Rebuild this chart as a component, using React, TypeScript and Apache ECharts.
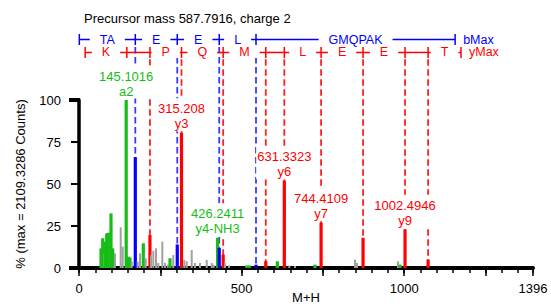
import React, { useEffect, useRef } from "react";
import * as echarts from "echarts";

const TITLE = "Precursor mass 587.7916, charge 2";
const Y_NAME = "% (max = 2109.3286 Counts)";
const X_NAME = "M+H";
const X_MAX = 1396;
const X_LABELS = [0, 500, 1000, 1396];

// kind: 0 gray (unassigned), 1 green, 2 blue (b), 3 red (y)
const peakMz = [
  67.7, 72.9, 76.9, 80.0, 85.2, 90.1, 98.4, 103.6, 110.7, 128.2, 134.4, 145.1016,
  151.6, 156.8, 162.1, 173.09, 180.5, 187.6, 197.7, 205.1, 218.15, 221.4, 228.5,
  236.8, 243.8, 256.2, 264.5, 272.8, 279.8, 290.0, 302.13, 315.208, 323.8, 331.2,
  346.6, 356.7, 372.1, 392.7, 408.1, 413.6, 426.2411, 431.18, 443.26, 449.0, 461.3,
  515.7, 523.7, 544.26, 574.3, 609.8, 631.3323, 646.7, 664.2, 725.7, 744.4109,
  848.7, 854.9, 873.45, 980.9, 987.1, 1002.4946, 1073.53,
];
const peakInt = [
  11.7, 17.7, 9, 15.7, 20.6, 21, 32.5, 11.7, 8.7, 24.2, 12.7, 100,
  6.7, 6.2, 3.8, 66, 3.8, 8.7, 14.7, 5.8, 19.6, 7.7, 10.3,
  11.7, 3, 15.7, 3, 2, 5.8, 7.7, 14, 80.5, 4.8, 4,
  10.7, 3, 3, 4.8, 3, 2, 18, 12, 8, 3, 1.5,
  1.5, 1.5, 2, 4, 4, 52, 1.5, 1.2, 2, 27,
  5, 3, 18, 4, 2, 23, 5,
];
const peakKind = [
  1, 1, 0, 1, 1, 1, 1, 1, 0, 0, 0, 1,
  1, 1, 0, 2, 0, 0, 1, 0, 3, 0, 0,
  0, 0, 0, 0, 0, 1, 0, 2, 3, 0, 0,
  0, 0, 0, 0, 0, 0, 1, 2, 3, 0, 0,
  1, 1, 2, 3, 1, 3, 0, 0, 1, 3,
  0, 0, 3, 0, 1, 3, 3,
];

const labelMz = ["145.1016", "315.208", "426.2411", "631.3323", "744.4109", "1002.4946"];
const labelInt = [100, 80.5, 18, 52, 27, 23];
const labelIon = ["a2", "y3", "y4-NH3", "y6", "y7", "y9"];
const labelKind = [1, 3, 1, 3, 3, 3];

const bLadderMz = [1.0073, 173.0921, 302.1347, 431.1773, 544.2613, 1156.5663];
const bLadderRes = ["TA", "E", "E", "L", "GMQPAK"];
const yLadderMz = [19.0178, 147.1128, 218.1499, 315.2027, 443.2613, 574.3017, 631.3232, 744.4073, 873.4499, 1002.4925, 1073.5296, 1174.5773];
const yLadderRes = ["K", "", "P", "Q", "M", "", "L", "E", "E", "", "T"];
const bDashMz = [173.0921, 302.1347, 431.1773, 544.2613];
const yDashMz = [218.1499, 315.2027, 443.2613, 574.3017, 631.3232, 744.4073, 873.4499, 1002.4925, 1073.5296];

const FONT = "'Liberation Sans', Arial, Helvetica, sans-serif";
const COLORS = ["#a0a0a0", "#16bd16", "#0000ff", "#ff0000"];
const B_ROW = 136.0;
const Y_ROW = 128.3;
const B_DASH_TOP = 131.5;
const Y_DASH_TOP = 124.2;

export default function App() {
  const ref = useRef<HTMLDivElement>(null);
  useEffect(() => {
    document.body.style.margin = "0";
    const chart = echarts.init(ref.current!, null, { renderer: "svg" });

    const peakData = peakMz.map((m, i) => [m, peakInt[i], peakKind[i]]);
    const labelData = labelMz.map((m, i) => [parseFloat(m), labelInt[i], i]);
    const dashData = [
      ...bDashMz.map((m) => [m, 0]),
      ...yDashMz.map((m) => [m, 1]),
    ];
    const ladderData: number[][] = [];
    for (let i = 0; i < bLadderRes.length; i++)
      ladderData.push([bLadderMz[i], bLadderMz[i + 1], 0, i, i === bLadderRes.length - 1 ? 1 : 0]);
    for (let i = 0; i < yLadderRes.length; i++)
      ladderData.push([yLadderMz[i], yLadderMz[i + 1], 1, i, i === yLadderRes.length - 1 ? 1 : 0]);

    const option: any = {
      animation: false,
      textStyle: { fontFamily: FONT },
      title: {
        text: TITLE,
        left: 79,
        top: 7,
        textStyle: { fontSize: 13, fontWeight: "normal", color: "#000", fontFamily: FONT },
      },
      grid: { left: 79, right: 18, top: 100, bottom: 38, containLabel: false, outerBoundsMode: "none" },
      xAxis: [
        {
          type: "value",
          min: 0,
          max: X_MAX,
          interval: 50,
          name: X_NAME,
          nameLocation: "middle",
          nameGap: 23,
          nameMoveOverlap: false,
          nameTextStyle: { fontSize: 13, color: "#000", fontFamily: FONT },
          axisLine: { show: true, lineStyle: { color: "#000", width: 4 } },
          axisTick: { show: true, length: 5, lineStyle: { color: "#000", width: 1.5 } },
          axisLabel: {
            color: "#000",
            fontSize: 13,
            margin: 14,
            fontFamily: FONT,
            formatter: (v: number) => (X_LABELS.includes(v) ? String(v) : ""),
          },
          splitLine: { show: false },
        },
        {
          type: "value",
          min: 0,
          max: X_MAX,
          interval: 250,
          position: "bottom",
          axisLine: { show: false },
          axisTick: { show: true, length: 8, lineStyle: { color: "#000", width: 1.5 } },
          axisLabel: { show: false },
          splitLine: { show: false },
        },
      ],
      yAxis: {
        type: "value",
        min: 0,
        max: 100,
        interval: 25,
        name: Y_NAME,
        nameLocation: "middle",
        nameGap: 52,
        nameMoveOverlap: false,
        nameTextStyle: { fontSize: 13, color: "#000", fontFamily: FONT },
        axisLine: { show: true, lineStyle: { color: "#000", width: 3.5 } },
        axisTick: { show: true, length: 8, lineStyle: { color: "#000", width: 2 } },
        axisLabel: { color: "#000", fontSize: 13, margin: 18, fontFamily: FONT },
        splitLine: { show: false },
      },
      series: [
        {
          type: "custom",
          name: "bracket",
          xAxisIndex: 0,
          clip: false,
          z: 6,
          data: [[0, 100], [0, 0]],
          renderItem: (_p: any, api: any) => {
            const p = api.coord([api.value(0), api.value(1)]);
            return {
              type: "line",
              shape: { x1: p[0] - 10, y1: p[1], x2: p[0] + 1, y2: p[1] },
              style: { stroke: "#000", lineWidth: 4 },
            };
          },
        },
        {
          type: "custom",
          name: "dashes",
          xAxisIndex: 0,
          clip: false,
          z: 2,
          data: dashData,
          renderItem: (_p: any, api: any) => {
            const m = api.value(0);
            const row = api.value(1);
            const top = api.coord([m, row === 0 ? B_DASH_TOP : Y_DASH_TOP]);
            const bot = api.coord([m, 0]);
            return {
              type: "line",
              shape: { x1: top[0], y1: top[1], x2: bot[0], y2: bot[1] },
              style: {
                stroke: row === 0 ? "#3a3aff" : "#ff2020",
                lineWidth: 1.8,
                lineDash: [6.5, 3.5],
              },
            };
          },
        },
        {
          type: "custom",
          name: "peaks",
          xAxisIndex: 0,
          clip: false,
          z: 3,
          data: peakData,
          renderItem: (_p: any, api: any) => {
            const m = api.value(0);
            const v = api.value(1);
            const k = api.value(2);
            const p0 = api.coord([m, 0]);
            const p1 = api.coord([m, v]);
            const w = k === 0 ? 2 : 3.2;
            return {
              type: "rect",
              shape: { x: p0[0] - w / 2, y: p1[1], width: w, height: p0[1] - p1[1] },
              style: { fill: COLORS[k] },
            };
          },
        },
        {
          type: "custom",
          name: "labels",
          xAxisIndex: 0,
          clip: false,
          z: 4,
          data: labelData,
          renderItem: (_p: any, api: any) => {
            const i = api.value(2);
            const p = api.coord([api.value(0), api.value(1)]);
            return {
              type: "text",
              x: p[0],
              y: p[1] - 1.5,
              style: {
                text: labelMz[i] + "\n" + labelIon[i],
                fill: COLORS[labelKind[i]],
                fontSize: 13,
                fontFamily: FONT,
                lineHeight: 15,
                align: "center",
                verticalAlign: "bottom",
                backgroundColor: "#fff",
                padding: [3, 1, 0, 1],
              },
            };
          },
        },
        {
          type: "custom",
          name: "ladder",
          xAxisIndex: 0,
          clip: false,
          z: 5,
          data: ladderData,
          renderItem: (_p: any, api: any) => {
            const s = api.value(0);
            const e = api.value(1);
            const row = api.value(2);
            const idx = api.value(3);
            const last = api.value(4);
            const yv = row === 0 ? B_ROW : Y_ROW;
            const color = row === 0 ? "#0000ff" : "#ff0000";
            const a = api.coord([s, yv]);
            const b = api.coord([e, yv]);
            const children: any[] = [
              { type: "line", shape: { x1: a[0], y1: a[1], x2: b[0], y2: b[1] }, style: { stroke: color, lineWidth: 1.5 } },
              { type: "line", shape: { x1: a[0], y1: a[1] - 5.5, x2: a[0], y2: a[1] + 5.5 }, style: { stroke: color, lineWidth: 1.5 } },
            ];
            const lab = row === 0 ? bLadderRes[idx] : yLadderRes[idx];
            if (lab) {
              children.push({
                type: "text",
                x: (a[0] + b[0]) / 2,
                y: a[1],
                style: {
                  text: lab,
                  fill: color,
                  fontSize: 12.5,
                  fontFamily: FONT,
                  lineHeight: 11,
                  align: "center",
                  verticalAlign: "middle",
                  backgroundColor: "#fff",
                  padding: [0, 10],
                },
              });
            }
            if (last) {
              children.push({ type: "line", shape: { x1: b[0], y1: b[1] - 5.5, x2: b[0], y2: b[1] + 5.5 }, style: { stroke: color, lineWidth: 1.5 } });
              children.push({
                type: "text",
                x: b[0] + 8,
                y: b[1],
                style: {
                  text: row === 0 ? "bMax" : "yMax",
                  fill: color,
                  fontSize: 12.5,
                  fontFamily: FONT,
                  lineHeight: 11,
                  align: "left",
                  verticalAlign: "middle",
                },
              });
            }
            return { type: "group", children };
          },
        },
      ],
    };
    chart.setOption(option);
    return () => chart.dispose();
  }, []);
  return <div ref={ref} style={{ width: 551, height: 306 }} />;
}
